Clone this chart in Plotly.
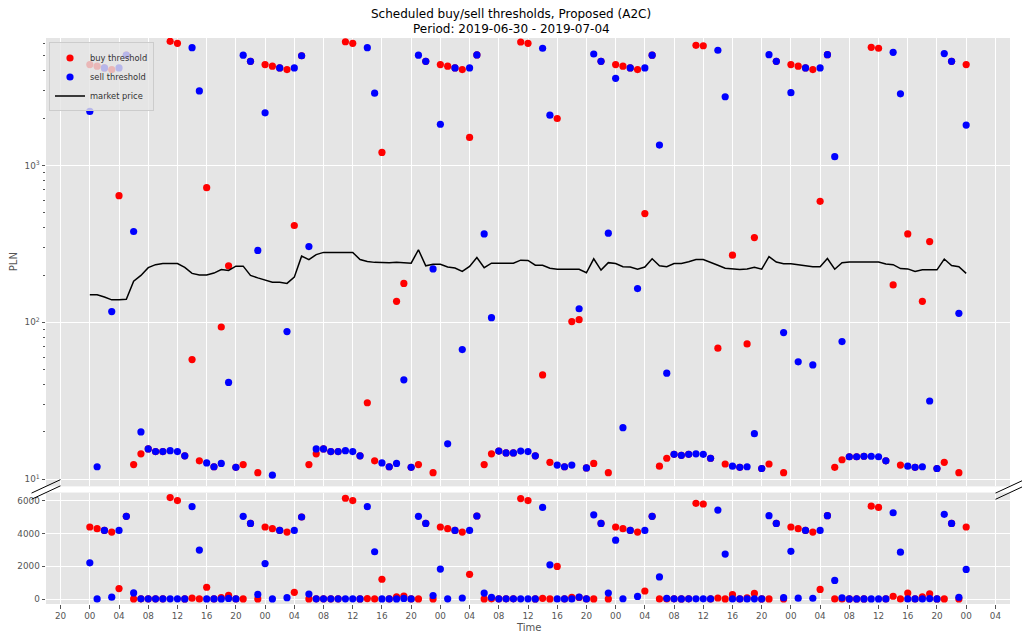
import math
import pandas as pd
import plotly.graph_objects as go

# ---------------- data (hourly, 2019-06-30 00:00 .. 2019-07-05 00:00) ----------------
start_time = "2019-06-30 00:00"
n_hours = 121

buy_threshold = [
    4390, 4290, 4180, 4080, 641, 5040, 12.4, 14.5, 15.6, 15.0, 15.0, 6180, 6000, 14.1, 57.9, 13.1, 721, 12.0, 93.3, 229, 11.9, 12.4, 4610, 11.0,
    4390, 4290, 4180, 4080, 414, 5000, 12.4, 14.5, 15.6, 15.0, 15.0, 6140, 6000, 14.1, 30.7, 13.1, 1210, 12.0, 136, 177, 11.9, 12.4, 4610, 11.0,
    4390, 4290, 4180, 4080, 1507, 5060, 12.4, 14.5, 15.1, 14.7, 14.7, 6120, 6000, 14.1, 46.2, 12.8, 1990, 12.0, 101, 104, 11.8, 12.6, 4610, 11.0,
    4390, 4290, 4180, 4080, 493, 5040, 12.1, 13.6, 14.4, 14.2, 14.4, 5830, 5790, 13.6, 68.4, 12.5, 268, 11.9, 72.8, 347, 11.7, 12.5, 4610, 11.0,
    4390, 4290, 4180, 4080, 590, 5080, 11.9, 13.3, 13.9, 13.9, 14.0, 5660, 5580, 13.1, 173, 12.3, 366, 11.9, 136, 327, 11.7, 12.8, 4610, 11.0,
    4390,
]

sell_threshold = [
    2210, 12.0, 4180, 117, 4180, 5040, 379, 20.0, 15.6, 15.0, 15.0, 15.2, 15.0, 14.1, 5630, 2985, 12.7, 12.0, 12.6, 41.4, 11.9, 5040, 4610, 287,
    2163, 10.6, 4180, 87.3, 4180, 5000, 304, 15.6, 15.6, 15.0, 15.0, 15.2, 15.0, 14.1, 5630, 2885, 12.7, 12.0, 12.6, 43.0, 11.9, 5040, 4610, 219,
    1830, 16.8, 4180, 67.0, 4180, 5060, 366, 107, 15.1, 14.7, 14.7, 15.1, 15.0, 14.1, 5580, 2090, 12.3, 12.0, 12.3, 122, 11.8, 5130, 4610, 370,
    3590, 21.3, 4180, 164, 4180, 5040, 1348, 47.4, 14.4, 14.2, 14.4, 14.5, 14.4, 13.6, 5420, 2740, 12.1, 11.9, 12.0, 19.5, 11.7, 5080, 4610, 86.0,
    2910, 56.0, 4180, 53.5, 4180, 5080, 1136, 75.4, 13.9, 13.9, 14.0, 14.0, 13.9, 13.1, 5260, 2860, 12.1, 11.9, 12.0, 31.5, 11.7, 5160, 4610, 114,
    1807,
]

market_price = [
    150, 150, 145, 139, 139, 140, 183, 199, 223, 233, 237, 237, 237, 224, 205, 200, 200, 206, 217, 214, 228, 228, 199, 192,
    185, 180, 180, 177, 194, 264, 251, 270, 279, 279, 279, 279, 279, 251, 244, 241, 240, 240, 241, 240, 238, 290, 229, 234,
    234, 225, 222, 211, 227, 259, 223, 238, 238, 238, 238, 249, 248, 231, 231, 221, 218, 218, 218, 218, 207, 254, 215, 240,
    237, 226, 225, 218, 225, 254, 229, 226, 237, 237, 243, 251, 251, 242, 231, 221, 219, 217, 219, 224, 218, 262, 242, 236,
    236, 233, 231, 226, 226, 255, 218, 240, 242, 242, 242, 242, 242, 235, 233, 220, 219, 211, 216, 216, 216, 253, 230, 226,
    205,
]

title_lines = ["Scheduled buy/sell thresholds, Proposed (A2C)", "Period: 2019-06-30 - 2019-07-04"]
y_tick_vals_top = [10, 100, 1000]
y_tick_text_top = ["10<sup>1</sup>", "10<sup>2</sup>", "10<sup>3</sup>"]
y_tick_vals_bottom = [0, 2000, 4000, 6000]
y_tick_text_bottom = ["0", "2000", "4000", "6000"]

times = pd.date_range(start_time, periods=n_hours, freq="h")

# ---------------- figure ----------------
W, H = 1022, 635
L, R = 46, 1010
T_TOP, T_BOT = 37.5, 486.5      # top panel pixel extent
B_TOP, B_BOT = 492.7, 604.3     # bottom panel pixel extent
ph = B_BOT - T_TOP
pw = R - L

def py(p):
    return (B_BOT - p) / ph

def px(p):
    return (p - L) / pw

FONT = "DejaVu Sans"
GREY = "#555555"
BG = "#E5E5E5"

fig = go.Figure()

marker_size = 7.2
# top panel (log)
fig.add_trace(go.Scatter(x=times, y=buy_threshold, mode="markers", name="buy threshold",
                         marker=dict(color="#FF0000", size=marker_size, line=dict(width=0)),
                         xaxis="x", yaxis="y"))
fig.add_trace(go.Scatter(x=times, y=sell_threshold, mode="markers", name="sell threshold",
                         marker=dict(color="#0000FF", size=marker_size, line=dict(width=0)),
                         xaxis="x", yaxis="y"))
fig.add_trace(go.Scatter(x=times, y=market_price, mode="lines", name="market price",
                         line=dict(color="black", width=1.5),
                         xaxis="x", yaxis="y"))
# bottom panel (linear)
fig.add_trace(go.Scatter(x=times, y=buy_threshold, mode="markers", showlegend=False,
                         marker=dict(color="#FF0000", size=marker_size, line=dict(width=0)),
                         xaxis="x2", yaxis="y2"))
fig.add_trace(go.Scatter(x=times, y=sell_threshold, mode="markers", showlegend=False,
                         marker=dict(color="#0000FF", size=marker_size, line=dict(width=0)),
                         xaxis="x2", yaxis="y2"))

t0 = pd.Timestamp(start_time)
x_range = [t0 - pd.Timedelta(hours=6), t0 + pd.Timedelta(hours=126)]
dtick_ms = 4 * 3600 * 1000
tick0 = "2019-06-29 20:00"

minor_vals = [m * 10 ** e for e in range(0, 4) for m in range(2, 10) if 9 < m * 10 ** e < 6500]

common_x = dict(range=x_range, tick0=tick0, dtick=dtick_ms, showgrid=True, gridcolor="white",
                gridwidth=1, zeroline=False, showline=False)

fig.update_layout(
    width=W, height=H,
    margin=dict(l=L, r=W - R, t=T_TOP, b=H - B_BOT, pad=0),
    paper_bgcolor="white", plot_bgcolor=BG,
    font=dict(family=FONT, size=9, color=GREY),
    xaxis=dict(domain=[0, 1], anchor="y", showticklabels=False, ticks="", **common_x),
    yaxis=dict(domain=[py(T_BOT), 1], type="log", range=[math.log10(9), math.log10(6488)],
               tickmode="array", tickvals=y_tick_vals_top, ticktext=y_tick_text_top,
               ticks="outside", ticklen=3.5, tickwidth=0.8, tickcolor=GREY,
               tickfont=dict(size=8.8, color=GREY),
               showgrid=True, gridcolor="white", gridwidth=1, zeroline=False, showline=False,
               minor=dict(tickmode="array", tickvals=minor_vals, ticks="outside", ticklen=2,
                          tickwidth=0.6, tickcolor=GREY, showgrid=False)),
    xaxis2=dict(domain=[0, 1], anchor="y2", matches="x", showticklabels=True, tickformat="%H",
                ticks="outside", ticklen=3.5, tickwidth=0.8, tickcolor=GREY,
                tickfont=dict(size=8.8, color=GREY), **common_x),
    yaxis2=dict(domain=[0, py(B_TOP)], range=[-298, 6488],
                tickmode="array", tickvals=y_tick_vals_bottom, ticktext=y_tick_text_bottom,
                ticks="outside", ticklen=3.5, tickwidth=0.8, tickcolor=GREY,
                tickfont=dict(size=8.8, color=GREY),
                showgrid=True, gridcolor="white", gridwidth=1, zeroline=False, showline=False),
    legend=dict(x=px(49), y=py(42), xanchor="left", yanchor="top",
                bgcolor="rgba(229,229,229,0.8)", bordercolor="#CCCCCC", borderwidth=1,
                font=dict(family=FONT, size=8.3, color="#333333"),
                itemwidth=30, tracegroupgap=0),
    showlegend=True,
)

# title (two centred lines, centred on the figure)
for line_text, y_px in zip(title_lines, (13, 28)):
    fig.add_annotation(text=line_text, x=(W / 2 - L) / pw, y=py(y_px), xref="paper", yref="paper",
                       showarrow=False, xanchor="center", yanchor="middle",
                       font=dict(family=FONT, size=12, color="black"))

# axis labels
fig.add_annotation(text="PLN", x=px(13), y=py((T_TOP + T_BOT) / 2), xref="paper", yref="paper",
                   textangle=-90, showarrow=False, xanchor="center", yanchor="middle",
                   font=dict(family=FONT, size=10, color=GREY))
fig.add_annotation(text="Time", x=0.5, y=py(628), xref="paper", yref="paper",
                   showarrow=False, xanchor="center", yanchor="middle",
                   font=dict(family=FONT, size=10, color=GREY))

# broken-axis diagonal marks
dx = 0.015 * pw
dy = 0.015 * (T_BOT - T_TOP)
marks = [(L, T_BOT), (R, T_BOT), (L, B_TOP), (R, B_TOP)]
for cx, cy in marks:
    fig.add_shape(type="line", xref="paper", yref="paper",
                  x0=px(cx - dx), y0=py(cy + dy), x1=px(cx + dx), y1=py(cy - dy),
                  line=dict(color="black", width=1))

fig.write_html("out.html", config={"displayModeBar": False},
               post_script="document.body.style.margin='0';document.body.style.padding='0';")
